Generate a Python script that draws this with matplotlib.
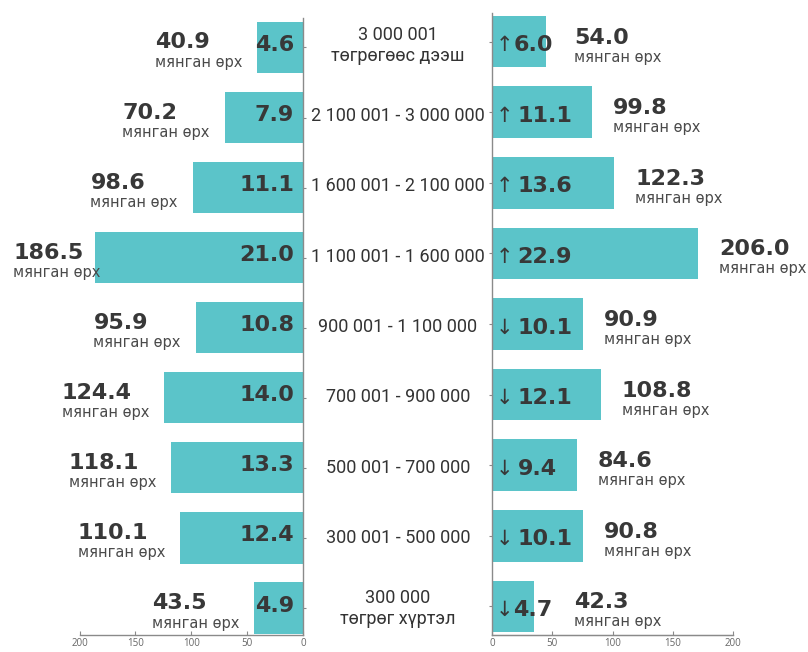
import matplotlib
matplotlib.use("Agg")
import matplotlib.pyplot as plt
import matplotlib.transforms as mtransforms
import numpy as np

# ---------------- data ----------------
categories = [
    "3 000 001\nтөгрөгөөс дээш",
    "2 100 001 - 3 000 000",
    "1 600 001 - 2 100 000",
    "1 100 001 - 1 600 000",
    "900 001 - 1 100 000",
    "700 001 - 900 000",
    "500 001 - 700 000",
    "300 001 - 500 000",
    "300 000\nтөгрөг хүртэл",
]
left_households = [40.9, 70.2, 98.6, 186.5, 95.9, 124.4, 118.1, 110.1, 43.5]
left_pct = [4.6, 7.9, 11.1, 21.0, 10.8, 14.0, 13.3, 12.4, 4.9]
right_households = [54.0, 99.8, 122.3, 206.0, 90.9, 108.8, 84.6, 90.8, 42.3]
right_pct = [6.0, 11.1, 13.6, 22.9, 10.1, 12.1, 9.4, 10.1, 4.7]
right_trend = ["up", "up", "up", "up", "down", "down", "down", "down", "down"]
tick_values = [0, 50, 100, 150, 200]
unit_label = "мянган өрх"

# ---------------- style ----------------
BAR = "#5bc4c9"
NUM = "#383838"
UNIT = "#4a4a4a"
SPINE = "#8a8a8a"
W, H = 808, 652

fig = plt.figure(figsize=(W / 100, H / 100), dpi=100)
fig.patch.set_facecolor("white")


def fx(px):
    return px / W


axL = fig.add_axes([fx(79.5), 17 / H, fx(303) - fx(79.5), (635 - 18) / H])
axR = fig.add_axes([fx(492), 17 / H, fx(733) - fx(492), (635 - 13) / H])

rows = np.arange(len(categories))
axL.barh(rows, left_households, height=0.73, color=BAR)
axR.barh(rows, right_households, height=0.73, color=BAR)
axL.set_xlim(200, 0)
axL.set_ylim(8.385, -0.42)
axR.set_xlim(0, 241)
axR.set_ylim(8.404, -0.405)

for ax in (axL, axR):
    ax.set_facecolor("none")
    ax.spines["top"].set_visible(False)
    for s in ax.spines.values():
        s.set_color(SPINE)
        s.set_linewidth(1.0)
axL.spines["left"].set_visible(False)
axR.spines["right"].set_visible(False)

# tiny row ticks on the central spines
axL.yaxis.tick_right()
axL.set_yticks(rows)
axL.set_yticklabels([])
axL.tick_params(axis="y", direction="out", length=2, width=0.8, color=SPINE)
axR.set_yticks(rows)
axR.set_yticklabels([])
axR.tick_params(axis="y", direction="out", length=2, width=0.8, color=SPINE)

tick_kw = dict(direction="in", length=3, width=0.8, color=SPINE,
               labelsize=7, labelcolor="#666666", pad=2.5)
axL.set_xticks(tick_values)
axL.tick_params(axis="x", **tick_kw)
for lab in axL.get_xticklabels():
    lab.set_family("Open Sans")

# right panel: bars are drawn at 1 px per unit, axis scale is wider
scale = 200 / 241
axR.set_xticks([])
sec = axR.secondary_xaxis("bottom", functions=(lambda x: x * scale, lambda x: x / scale))
sec.set_xticks(tick_values)
sec.tick_params(axis="x", **tick_kw)
sec.spines["bottom"].set_color(SPINE)
for lab in sec.get_xticklabels():
    lab.set_family("Open Sans")

ident = mtransforms.IdentityTransform()
fig.canvas.draw()
renderer = fig.canvas.get_renderer()

num_kw = dict(fontsize=16, fontweight="bold", color=NUM, family="DejaVu Sans",
              transform=ident, va="baseline")
unit_kw = dict(fontsize=10.5, color=UNIT, family="DejaVu Sans",
               transform=ident, va="baseline")

# ---------- left side ----------
for i in rows:
    v = left_households[i]
    bx, cy = axL.transData.transform((v, i))
    x0 = axL.transData.transform((0, i))[0]
    fig.text(x0 - 9, cy - 3.5, f"{left_pct[i]:.1f}", ha="right", **num_kw)
    u = fig.text(bx - 15, cy - 19.5, unit_label, ha="right", **unit_kw)
    left_edge = u.get_window_extent(renderer).x0
    if left_edge < 13:
        u.remove()
        left_edge = 13
        fig.text(left_edge, cy - 19.5, unit_label, ha="left", **unit_kw)
    fig.text(left_edge, cy - 1, f"{v:.1f}", ha="left", **num_kw)

# ---------- right side ----------
for i in rows:
    v = right_households[i]
    bx, cy = axR.transData.transform((v, i))
    x0 = axR.transData.transform((0, i))[0]
    arrow = "↑" if right_trend[i] == "up" else "↓"
    a = fig.text(x0 + 4, cy - 9.5, arrow, ha="left", fontsize=15, color=NUM,
                 family="DejaVu Sans", transform=ident, va="baseline")
    ar = a.get_window_extent(renderer).x1
    gap = 0 if right_pct[i] < 7 else 4
    t = fig.text(ar + gap, cy - 9.5, f"{right_pct[i]:.1f}", ha="left", **num_kw)
    tr = t.get_window_extent(renderer).x1
    xs = max(bx, tr) + 21
    fig.text(xs, cy - 2, f"{v:.1f}", ha="left", **num_kw)
    fig.text(xs, cy - 20, unit_label, ha="left", **unit_kw)

# ---------- middle labels ----------
for i in rows:
    _, cyl = axL.transData.transform((0, i))
    _, cyr = axR.transData.transform((0, i))
    cy = (cyl + cyr) / 2 - 1
    fig.text(398, cy, categories[i], ha="center", va="center", fontsize=13,
             family="Roboto", fontweight="normal", color="#333333", transform=ident,
             linespacing=1.2, multialignment="center")

fig.savefig("out.png", dpi=100, facecolor="white")
